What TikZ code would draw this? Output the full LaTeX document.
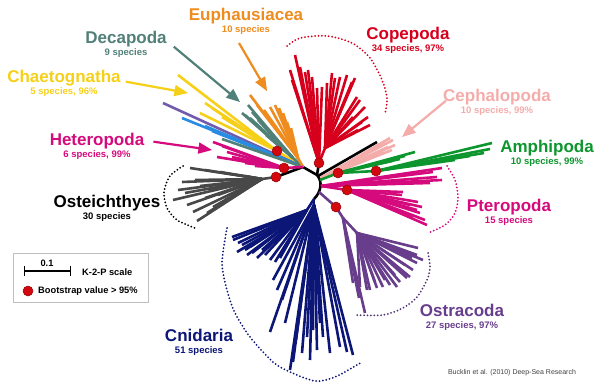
\documentclass[tikz,border=0pt]{standalone}
\usepackage{fontspec}
\setmainfont{Liberation Sans}
\usetikzlibrary{arrows,positioning}

\definecolor{copered}{RGB}{214,0,28}
\definecolor{cephpink}{RGB}{244,172,170}
\definecolor{amphgreen}{RGB}{12,150,45}
\definecolor{pteromag}{RGB}{212,10,125}
\definecolor{ostrapurp}{RGB}{104,62,140}
\definecolor{cnidnavy}{RGB}{12,22,118}
\definecolor{fishgray}{RGB}{72,72,72}
\definecolor{chaetyel}{RGB}{246,208,24}
\definecolor{decateal}{RGB}{80,128,120}
\definecolor{euphorg}{RGB}{238,140,32}
\definecolor{lineblue}{RGB}{40,140,226}
\definecolor{linepurp}{RGB}{112,92,170}
\definecolor{bootred}{RGB}{210,8,14}

\begin{document}
\begin{tikzpicture}[x=1pt,y=-1pt,>=triangle 45,node distance=2pt,
  br/.style={line width=2.6pt},
  grp/.style={font=\bfseries\fontsize{17}{17}\selectfont,inner sep=0pt,text height=12.2pt,text depth=3.6pt,anchor=base},
  cnt/.style={font=\bfseries\fontsize{9.5}{11}\selectfont,inner sep=0pt,text height=6.8pt,text depth=2pt},
  keytext/.style={font=\bfseries\fontsize{9.3}{11}\selectfont,inner sep=0pt},
  arr/.style={->,line width=2.2pt},
  rim/.style={line width=2pt,line cap=round,dash pattern=on 0pt off 3.4pt},
  boot/.style={circle,fill=bootred,draw=bootred!70!black,line width=0.5pt,inner sep=0pt,minimum size=10pt}]

\useasboundingbox (0,0) rectangle (600,388);

% branch points
\coordinate (hub) at (303,167);
\coordinate (ctr) at (317,175);
\coordinate (bamph) at (320,180);
\coordinate (bpter) at (321,186);
\coordinate (bostr) at (319,192);
\coordinate (bcnid) at (314,199);
\coordinate (cop) at (319,163);
\coordinate (copsub) at (325,148);
\coordinate (chaet) at (277,151);
\coordinate (euph) at (298,158);
\coordinate (deca) at (293,158);
\coordinate (hetero) at (284,168);
\coordinate (fishdot) at (276,177);
\coordinate (fish) at (262,179);
\coordinate (amph) at (338,173);
\coordinate (amphsub) at (376,171);
\coordinate (pter) at (347,190);
\coordinate (ostr) at (336,207);
\coordinate (ostrmid) at (343,218);
\coordinate (ostrsub) at (357,233);
\coordinate (cnidleft) at (307,210);
\coordinate (cnidright) at (314,205);

% backbone
\draw[br] (hub) -- (ctr) .. controls (323,182) and (321,192) .. (bcnid);
\draw[br] (ctr) -- (cop);
\draw[br] (318,176) -- (377,142);
\draw[br] (fishdot) -- (hub);

% left group
\foreach \x/\y in {178/75,205/103,200/113,212/108,222/117}
  \draw[br,chaetyel] (chaet) -- (\x,\y);
\draw[br,chaetyel] (chaet) -- (hub);
\draw[br,linepurp] (hub) -- (163,103);
\foreach \x/\y in {182/118,205/126,212/131}
  \draw[br,lineblue] (hub) -- (\x,\y);
\draw[br,decateal] (hub) -- (222,139);
\foreach \x/\y in {248/105,242/113,245/115,250/118,255/123,260/128,266/135,252/112,258/120}
  \draw[br,decateal] (deca) -- (\x,\y);
\draw[br,decateal] (deca) -- (hub);
\foreach \x/\y in {250/95,257/105,264/110,270/107,275/105,279/108,283/113,287/122,291/128,267/117}
  \draw[br,euphorg] (euph) -- (\x,\y);
\draw[br,euphorg] (euph) -- (hub);
\foreach \x/\y in {213/142,222/146,217/157,227/152,237/160,245/163,232/157,255/166}
  \draw[br,pteromag] (hetero) -- (\x,\y);
\draw[br,pteromag] (hetero) -- (hub);
\foreach \x/\y in {190/168,205/170,220/172,182/182,195/180,178/190,185/193,173/200,187/205,193/212,197/221,207/213,213/207,225/200,235/195,200/186,210/190,228/184,245/176,240/188,205/198,218/195}
  \draw[br,fishgray] (fish) -- (\x,\y);
\draw[br,fishgray] (fish) -- (fishdot);

% copepoda
\foreach \x/\y in {295/55,290/70,292/80,300/67,305/72,308/70,312/77,317/88,322/87}
  \draw[br,copered] (cop) -- (\x,\y);
\draw[br,copered] (cop) -- (copsub);
\foreach \x/\y in {327/83,332/73,335/78,340/77,347/75,352/82,355/78,357/97,360/100,365/107,368/117,370/125,362/122,353/117,358/130,345/100}
  \draw[br,copered] (copsub) -- (\x,\y);

% cephalopoda
\foreach \x/\y in {393/140,395/145,392/150,388/147,383/152,378/155,372/157,385/143,390/138,368/159}
  \draw[br,cephpink] (321,178) -- (\x,\y);

% amphipoda
\draw[br,amphgreen] (bamph) -- (amph) -- (amphsub);
\foreach \x/\y in {415/152,405/156,400/159,392/161}
  \draw[br,amphgreen] (amph) -- (\x,\y);
\foreach \x/\y in {492/143,490/149,484/153,470/156,455/160}
  \draw[br,amphgreen] (amphsub) -- (\x,\y);

% pteropoda
\foreach \x/\y in {442/168,433/172,437/177,442/180,430/183}
  \draw[br,pteromag] (bpter) -- (\x,\y);
\draw[br,pteromag] (bpter) -- (pter);
\foreach \x/\y in {403/192,402/195,418/202,422/207,417/210,420/213,427/225,413/218,410/205,425/220}
  \draw[br,pteromag] (pter) -- (\x,\y);

% ostracoda
\draw[br,ostrapurp] (bostr) -- (ostr) -- (ostrmid) -- (ostrsub);
\foreach \x/\y in {365/313,353/283,359/298}
  \draw[br,ostrapurp] (ostrmid) -- (\x,\y);
\foreach \x/\y in {418/248,417/255,423/260,417/263,413/270,410/277,407/278,400/282,397/287,390/285,383/287,377/288,370/290,367/290,360/287,405/265,395/275,385/280,412/258,375/282}
  \draw[br,ostrapurp] (ostrsub) -- (\x,\y);

% cnidaria
\draw[br,cnidnavy] (bcnid) -- (cnidright);
\draw[br,cnidnavy] (bcnid) -- (cnidleft);
\foreach \x/\y in {232/237,233/240,238/243,237/252,247/255,257/258,270/260,275/262,250/247,262/250,242/245,265/255,245/250,252/253,280/258}
  \draw[br,cnidnavy] (cnidleft) -- (\x,\y);
\foreach \x/\y in {273/280,277/290,270/332,282/300,285/323,290/370,293/362,302/353,310/360,317/350,323/337,330/353,340/347,347/352,353/355,320/323,307/337,296/340,313/330}
  \draw[br,cnidnavy] (cnidright) -- (\x,\y);

% dotted rims
\draw[rim,copered] plot[smooth] coordinates {(287,46) (300,38) (327,36) (352,43) (370,58) (382,80) (387,98) (385,114)};
\draw[rim,pteromag] plot[smooth] coordinates {(447,166) (455,180) (458,197) (455,213) (445,225) (428,233)};
\draw[rim,ostrapurp!80!black] plot[smooth] coordinates {(428,253) (430,267) (427,280) (417,297) (403,308) (383,315) (355,315)};
\draw[rim,cnidnavy] plot[smooth] coordinates {(227,228) (222,263) (227,290) (235,313) (250,337) (273,362) (290,372) (315,381) (335,377) (362,362)};
\draw[rim,black] plot[smooth] coordinates {(183,166) (170,176) (164,192) (167,208) (177,220) (195,228)};

% bootstrap dots
\foreach \p in {cop,amph,amphsub,pter,ostr,chaet,hetero,fishdot}
  \node[boot] at (\p) {};

% labels
\node[grp,euphorg] (euphl) at (246,20) {Euphausiacea};
\node[cnt,euphorg,below=of euphl] (euphn) {10 species};
\node[grp,decateal] (decal) at (126,43) {Decapoda};
\node[cnt,decateal,below=of decal] (decan) {9 species};
\node[grp,chaetyel] (chaetl) at (64,82) {Chaetognatha};
\node[cnt,chaetyel,below=of chaetl] (chaetn) {5 species, 96\%};
\node[grp,pteromag] (heterol) at (97,145) {Heteropoda};
\node[cnt,pteromag,below=of heterol] (heteron) {6 species, 99\%};
\node[grp,black] (fishl) at (107,207) {Osteichthyes};
\node[cnt,black,below=of fishl] (fishn) {30 species};
\node[grp,cnidnavy] (cnidl) at (199,341) {Cnidaria};
\node[cnt,cnidnavy,below=of cnidl] (cnidn) {51 species};
\node[grp,copered] (copl) at (408,39) {Copepoda};
\node[cnt,copered,below=of copl] (copn) {34 species, 97\%};
\node[grp,cephpink] (cephl) at (497,101) {Cephalopoda};
\node[cnt,cephpink,below=of cephl] (cephn) {10 species, 99\%};
\node[grp,amphgreen] (amphl) at (547,152) {Amphipoda};
\node[cnt,amphgreen,below=of amphl] (amphn) {10 species, 99\%};
\node[grp,pteromag] (pterl) at (509,211) {Pteropoda};
\node[cnt,pteromag,below=of pterl] (ptern) {15 species};
\node[grp,ostrapurp] (ostrl) at (462,316) {Ostracoda};
\node[cnt,ostrapurp,below=of ostrl] (ostrn) {27 species, 97\%};

% arrows
\coordinate (euphtip) at (267,91);
\coordinate (decatip) at (240,102);
\coordinate (chaettip) at (188,93);
\coordinate (heterotip) at (212,150);
\coordinate (cephtip) at (402,137);
\draw[arr,euphorg] ([shift={(-7,8)}]euphn.south) -- (euphtip);
\draw[arr,decateal] ([shift={(7,8)}]decal.east) -- (decatip);
\draw[arr,chaetyel] ([shift={(5,4)}]chaetl.east) -- (chaettip);
\draw[arr,pteromag] ([shift={(9,1)}]heterol.east) -- (heterotip);
\draw[arr,cephpink] ([shift={(3,4)}]cephl.west) -- (cephtip);

% key
\draw[black!25,line width=0.8pt] (13,253) rectangle (148,302);
\draw[line width=1.4pt,|-|] (24,271) -- (71,271);
\node[keytext] (scl) at (47,263) {0.1};
\node[keytext,anchor=west] (k2p) at (82,272) {K-2-P scale};
\node[boot] (keydot) at (28,291) {};
\node[keytext,anchor=west] (bootkey) at (38,291) {Bootstrap value > 95\%};

\node[font=\fontsize{7}{8}\selectfont,text=black!75,inner sep=0pt] (cite) at (512,373) {Bucklin et al. (2010) Deep-Sea Research};
\end{tikzpicture}
\end{document}
